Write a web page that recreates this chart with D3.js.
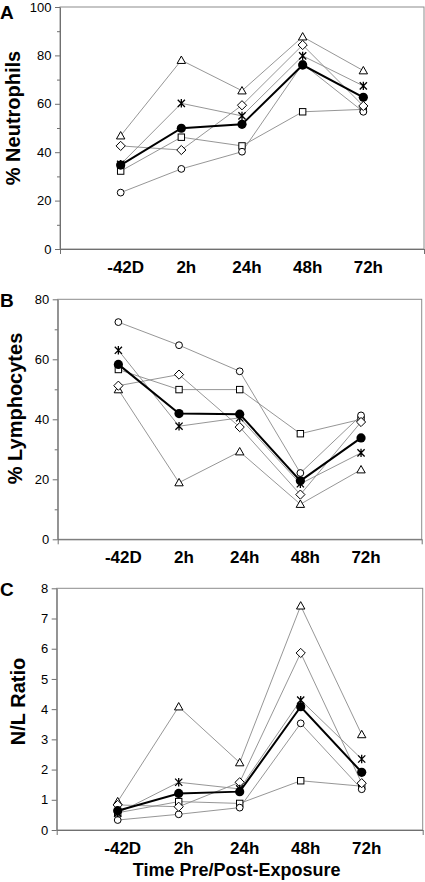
<!DOCTYPE html>
<html><head><meta charset="utf-8">
<script src="https://cdn.jsdelivr.net/npm/d3@7"></script>
<style>
body{margin:0;background:#fff}
svg{display:block}
text{font-family:"Liberation Sans",Arial,Helvetica,sans-serif}
</style>
</head><body>
<svg id="chart" width="425" height="882"></svg>
<script>
// ---------- DATA ----------
const timepoints = ["-42D", "2h", "24h", "48h", "72h"];

// Panel A: % Neutrophils
const neutTriangle = [46.8, 78.0, 65.4, 87.7, 73.7];
const neutDiamond  = [42.6, 40.9, 59.4, 84.3, 59.1];
const neutStar     = [35.0, 60.2, 55.0, 79.8, 67.4];
const neutSquare   = [32.2, 46.2, 42.6, 56.7, 57.7];
const neutCircle   = [23.3, 33.1, 40.2, 76.5, 56.7];
const neutMean     = [34.7, 49.9, 51.5, 76.0, 62.7];
const neutTicks    = [0, 20, 40, 60, 80, 100];
const neutMinor    = [10, 30, 50, 70, 90];

// Panel B: % Lymphocytes
const lympTriangle = [49.9, 18.9, 29.2, 11.7, 23.2];
const lympDiamond  = [51.2, 54.9, 37.4, 14.9, 39.1];
const lympStar     = [63.0, 37.7, 40.5, 18.5, 28.8];
const lympSquare   = [56.6, 49.9, 49.9, 35.2, 40.0];
const lympCircle   = [72.4, 64.7, 56.0, 22.1, 41.3];
const lympMean     = [58.3, 41.9, 41.7, 19.5, 33.8];
const lympTicks    = [0, 20, 40, 60, 80];
const lympMinor    = [10, 30, 50, 70];

// Panel C: N/L Ratio
const ratioTriangle = [0.94, 4.08, 2.23, 7.42, 3.16];
const ratioDiamond  = [0.83, 0.77, 1.58, 5.86, 1.55];
const ratioStar     = [0.56, 1.58, 1.36, 4.30, 2.35];
const ratioSquare   = [0.57, 0.94, 0.88, 1.63, 1.45];
const ratioCircle   = [0.33, 0.52, 0.74, 3.53, 1.35];
const ratioMean     = [0.64, 1.21, 1.27, 4.08, 1.91];
const ratioTicks    = [0, 1, 2, 3, 4, 5, 6, 7, 8];
const ratioMinor    = [];

const panelLetters = ["A", "B", "C"];
const yTitles = ["% Neutrophils", "% Lymphocytes", "N/L Ratio"];
const xTitle = "Time Pre/Post-Exposure";

// ---------- DRAW ----------
const svg = d3.select("#chart");

const panels = [
  {letter: panelLetters[0], title: yTitles[0], ticks: neutTicks, minor: neutMinor, max: 100,
   series: [["square", neutSquare], ["circle", neutCircle], ["triangle", neutTriangle], ["diamond", neutDiamond], ["star", neutStar]],
   mean: neutMean,
   L: 60, R: 424, T: 7, B: 249, letterY: 18.5, titleX: 20, titleY: 118, xTitle: false},
  {letter: panelLetters[1], title: yTitles[1], ticks: lympTicks, minor: lympMinor, max: 80,
   series: [["square", lympSquare], ["circle", lympCircle], ["triangle", lympTriangle], ["diamond", lympDiamond], ["star", lympStar]],
   mean: lympMean,
   L: 57.7, R: 421.7, T: 299.3, B: 539.3, letterY: 306.5, titleX: 21.5, titleY: 408.5, xTitle: false},
  {letter: panelLetters[2], title: yTitles[2], ticks: ratioTicks, minor: ratioMinor, max: 8,
   series: [["square", ratioSquare], ["circle", ratioCircle], ["triangle", ratioTriangle], ["diamond", ratioDiamond], ["star", ratioStar]],
   mean: ratioMean,
   L: 56.7, R: 422.7, T: 588.3, B: 830, letterY: 596, titleX: 25, titleY: 701.5, xTitle: true}
];

function drawMarker(g, type, cx, cy) {
  if (type === "triangle") {
    g.append("path").attr("d", `M${cx},${cy-4.2}L${cx+4.2},${cy+3.2}L${cx-4.2},${cy+3.2}Z`)
      .attr("fill", "#fff").attr("stroke", "#000").attr("stroke-width", 1);
  } else if (type === "diamond") {
    g.append("path").attr("d", `M${cx},${cy-4.6}L${cx+4.6},${cy}L${cx},${cy+4.6}L${cx-4.6},${cy}Z`)
      .attr("fill", "#fff").attr("stroke", "#000").attr("stroke-width", 1);
  } else if (type === "square") {
    g.append("rect").attr("x", cx-3.2).attr("y", cy-3.2).attr("width", 6.4).attr("height", 6.4)
      .attr("fill", "#fff").attr("stroke", "#000").attr("stroke-width", 1);
  } else if (type === "circle") {
    g.append("circle").attr("cx", cx).attr("cy", cy).attr("r", 3.4)
      .attr("fill", "#fff").attr("stroke", "#000").attr("stroke-width", 1);
  } else if (type === "star") {
    g.append("path").attr("d",
      `M${cx-3.6},${cy-3.6}L${cx+3.6},${cy+3.6}M${cx+3.6},${cy-3.6}L${cx-3.6},${cy+3.6}M${cx},${cy-4.2}L${cx},${cy+4.2}`)
      .attr("fill", "none").attr("stroke", "#000").attr("stroke-width", 1.3);
  } else if (type === "mean") {
    g.append("circle").attr("cx", cx).attr("cy", cy).attr("r", 4.6).attr("fill", "#000");
  }
}

panels.forEach(p => {
  const g = svg.append("g");
  const x = d3.scaleLinear().domain([0, 6]).range([p.L, p.R]);
  const y = d3.scaleLinear().domain([0, p.max]).range([p.B, p.T]);

  // frame
  g.append("rect").attr("x", p.L).attr("y", p.T).attr("width", p.R - p.L).attr("height", p.B - p.T)
    .attr("fill", "none").attr("stroke", "#8c8c8c").attr("stroke-width", 1);

  // y axis
  const ya = g.append("g").attr("transform", `translate(${p.L},0)`)
    .call(d3.axisLeft(y).tickValues(p.ticks).tickSize(5).tickSizeOuter(0).tickPadding(3.5)
      .tickFormat(d3.format("d")));
  ya.select(".domain").attr("stroke", "#707070");
  ya.selectAll(".tick line").attr("stroke", "#707070");
  ya.selectAll(".tick text").attr("font-size", 13).attr("fill", "#000")
    .attr("font-family", '"Liberation Sans",Arial,sans-serif');
  if (p.minor.length) {
    const ym = g.append("g").attr("transform", `translate(${p.L},0)`)
      .call(d3.axisLeft(y).tickValues(p.minor).tickSize(3).tickSizeOuter(0).tickFormat(""));
    ym.select(".domain").remove();
    ym.selectAll(".tick line").attr("stroke", "#707070");
  }

  // x axis
  const xa = g.append("g").attr("transform", `translate(0,${p.B})`)
    .call(d3.axisBottom(x).tickValues([0, 6]).tickSize(5).tickSizeOuter(0).tickFormat(""));
  xa.select(".domain").attr("stroke", "#707070");
  xa.selectAll(".tick line").attr("stroke", "#707070");

  // category labels
  g.selectAll("text.cat").data(timepoints).enter().append("text")
    .attr("class", "cat")
    .attr("x", (d, i) => x(i + 1) + 5)
    .attr("y", p.B + 24)
    .attr("text-anchor", "middle")
    .attr("font-size", 17).attr("font-weight", "bold")
    .text(d => d);

  // lines
  const line = d3.line().x((d, i) => x(i + 1)).y(d => y(d));
  p.series.forEach(([type, vals]) => {
    g.append("path").datum(vals).attr("d", line)
      .attr("fill", "none").attr("stroke", "#8a8a8a").attr("stroke-width", 0.9);
  });
  p.series.forEach(([type, vals]) => {
    vals.forEach((v, i) => drawMarker(g, type, x(i + 1), y(v)));
  });
  g.append("path").datum(p.mean).attr("d", line)
    .attr("fill", "none").attr("stroke", "#000").attr("stroke-width", 2);
  p.mean.forEach((v, i) => drawMarker(g, "mean", x(i + 1), y(v)));

  // panel letter
  g.append("text").attr("x", 0).attr("y", p.letterY)
    .attr("font-size", 19).attr("font-weight", "bold").text(p.letter);

  // y title
  g.append("text")
    .attr("transform", `translate(${p.titleX},${p.titleY}) rotate(-90)`)
    .attr("text-anchor", "middle")
    .attr("font-size", 20).attr("font-weight", "bold").text(p.title);

  if (p.xTitle) {
    g.append("text").attr("x", 236.7).attr("y", 876)
      .attr("text-anchor", "middle")
      .attr("font-size", 18).attr("font-weight", "bold").text(xTitle);
  }
});
</script>
</body></html>
